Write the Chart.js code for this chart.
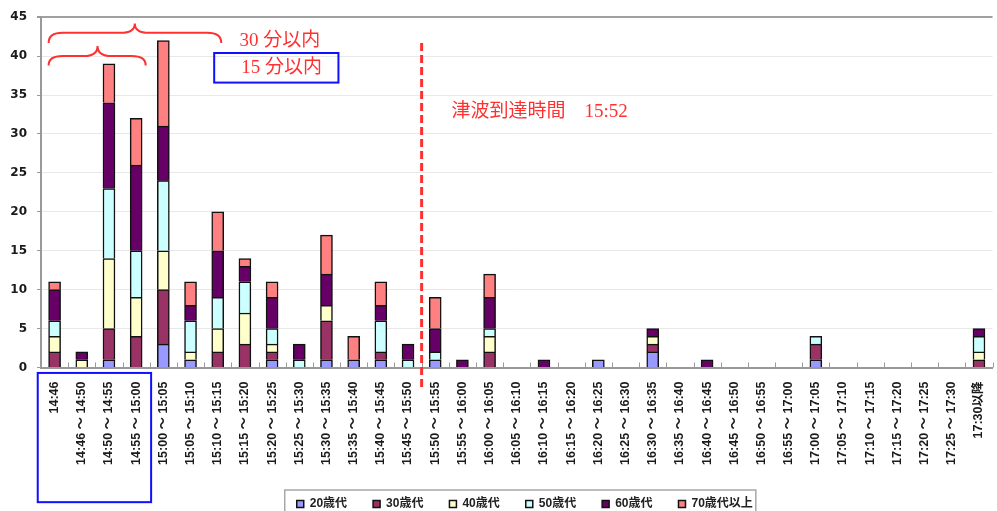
<!DOCTYPE html>
<html>
<head>
<meta charset="utf-8">
<script src="https://cdn.jsdelivr.net/npm/chart.js@4.4.1/dist/chart.umd.min.js"></script>
<style>
  html, body { margin: 0; padding: 0; background: #fff; width: 997px; height: 511px; overflow: hidden; }
  canvas { display: block; }
</style>
</head>
<body>
<canvas id="chart" width="1008" height="520"></canvas>
<script>
// Time slots after the earthquake (14:46)
const timeSlots = [
  '14:46', '14:46 ～ 14:50', '14:50 ～ 14:55', '14:55 ～ 15:00',
  '15:00 ～ 15:05', '15:05 ～ 15:10', '15:10 ～ 15:15', '15:15 ～ 15:20',
  '15:20 ～ 15:25', '15:25 ～ 15:30', '15:30 ～ 15:35', '15:35 ～ 15:40',
  '15:40 ～ 15:45', '15:45 ～ 15:50', '15:50 ～ 15:55', '15:55 ～ 16:00',
  '16:00 ～ 16:05', '16:05 ～ 16:10', '16:10 ～ 16:15', '16:15 ～ 16:20',
  '16:20 ～ 16:25', '16:25 ～ 16:30', '16:30 ～ 16:35', '16:35 ～ 16:40',
  '16:40 ～ 16:45', '16:45 ～ 16:50', '16:50 ～ 16:55', '16:55 ～ 17:00',
  '17:00 ～ 17:05', '17:05 ～ 17:10', '17:10 ～ 17:15', '17:15 ～ 17:20',
  '17:20 ～ 17:25', '17:25 ～ 17:30', '17:30以降'
];

// Counts per age group for each time slot
const age20s = [0,0,1,0,3,1,0,0,1,0,1,1,1,0,1,0,0,0,0,0,1,0,2,0,0,0,0,0,1,0,0,0,0,0,0];
const age30s = [2,0,4,4,7,0,2,3,1,0,5,0,1,0,0,0,2,0,0,0,0,0,1,0,0,0,0,0,2,0,0,0,0,0,1];
const age40s = [2,1,9,5,5,1,3,4,1,0,2,0,0,0,0,0,2,0,0,0,0,0,1,0,0,0,0,0,0,0,0,0,0,0,1];
const age50s = [2,0,9,6,9,4,4,4,2,1,0,0,4,1,1,0,1,0,0,0,0,0,0,0,0,0,0,0,1,0,0,0,0,0,2];
const age60s = [4,1,11,11,7,2,6,2,4,2,4,0,2,2,3,1,4,0,1,0,0,0,1,0,1,0,0,0,0,0,0,0,0,0,1];
const age70s = [1,0,5,6,11,3,5,1,2,0,5,3,3,0,4,0,3,0,0,0,0,0,0,0,0,0,0,0,0,0,0,0,0,0,0];

const seriesNames = ['20歳代', '30歳代', '40歳代', '50歳代', '60歳代', '70歳代以上'];
const seriesColors = ['#9999ff', '#993366', '#ffffcc', '#ccffff', '#660066', '#ff8080'];
const seriesValues = [age20s, age30s, age40s, age50s, age60s, age70s];

// Value axis
const yMin = 0, yMax = 45, yStep = 5;

// Annotation texts and their anchors (slot index, value)
const tsunamiText = '津波到達時間　15:52';
const within30Text = '30 分以内';
const within15Text = '15 分以内';
const tsunamiSlot = 13.5;

const RED = '#ff3030';
const BLUE = '#1010ff';
const annoFont = '19px "Liberation Serif", "Noto Sans CJK JP", serif';
const legendShift = 8;

function brace(ctx, x0, x1, xp, yEnd, yMid, yPeak, r) {
  ctx.beginPath();
  ctx.moveTo(x0, yEnd);
  ctx.quadraticCurveTo(x0, yMid, x0 + r, yMid);
  ctx.lineTo(xp - r, yMid);
  ctx.quadraticCurveTo(xp, yMid, xp, yPeak);
  ctx.quadraticCurveTo(xp, yMid, xp + r, yMid);
  ctx.lineTo(x1 - r, yMid);
  ctx.quadraticCurveTo(x1, yMid, x1, yEnd);
  ctx.stroke();
}

const extras = {
  id: 'extras',
  afterUpdate(chart) {
    // nudge the legend row to the right
    const lg = chart.legend;
    if (!lg) return;
    lg.left += legendShift;
    lg.right += legendShift;
    (lg.legendHitBoxes || []).forEach(h => { h.left += legendShift; });
  },
  afterDatasetsDraw(chart) {
    const {ctx, chartArea} = chart;
    const xs = chart.scales.x, ys = chart.scales.y;
    const X = v => xs.getPixelForValue(v);
    const Y = v => ys.getPixelForValue(v);
    ctx.save();
    // inward tick marks at slot boundaries
    ctx.strokeStyle = '#999';
    ctx.lineWidth = 1;
    for (let i = 0; i <= timeSlots.length; i++) {
      const x = Math.round(X(i - 0.5)) + 0.5;
      ctx.beginPath();
      ctx.moveTo(x, chartArea.bottom);
      ctx.lineTo(x, chartArea.bottom - 5);
      ctx.stroke();
    }
    // tsunami arrival line
    ctx.strokeStyle = RED;
    ctx.lineWidth = 3;
    ctx.setLineDash([8, 4]);
    ctx.beginPath();
    ctx.moveTo(X(tsunamiSlot), Y(41.7));
    ctx.lineTo(X(tsunamiSlot), Y(-2.9));
    ctx.stroke();
    ctx.setLineDash([]);
    // braces
    ctx.lineWidth = 2;
    brace(ctx, X(-0.22), X(6.13), X(2.95), Y(41.7), Y(43.0), Y(44.2), 14);
    brace(ctx, X(-0.22), X(3.35), X(1.58), Y(38.8), Y(40.0), Y(41.3), 14);
    // texts
    ctx.fillStyle = RED;
    ctx.font = annoFont;
    ctx.textAlign = 'left';
    ctx.textBaseline = 'middle';
    ctx.fillText(within30Text, X(6.8), Y(42.0));
    ctx.fillText(within15Text, X(6.87), Y(38.45));
    ctx.fillText(tsunamiText, X(14.6), Y(32.85));
    // box around the 15-minute caption
    ctx.strokeStyle = BLUE;
    ctx.lineWidth = 2;
    ctx.strokeRect(X(5.87), Y(40.4), X(10.44) - X(5.87), Y(36.6) - Y(40.4));
    ctx.restore();
  },
  afterDraw(chart) {
    const {ctx} = chart;
    const xs = chart.scales.x, ys = chart.scales.y;
    const X = v => xs.getPixelForValue(v);
    const Y = v => ys.getPixelForValue(v);
    ctx.save();
    // box around the first four slot labels
    ctx.strokeStyle = BLUE;
    ctx.lineWidth = 2;
    ctx.strokeRect(X(-0.62), Y(-0.7), X(3.55) - X(-0.62), Y(-17.3) - Y(-0.7));
    // frame around legend
    const hb = chart.legend.legendHitBoxes;
    if (hb && hb.length) {
      const l = hb[0].left - 12;
      const last = hb[hb.length - 1];
      const r = last.left + last.width + 3;
      const t = hb[0].top - 8;
      ctx.strokeStyle = '#a8a8a8';
      ctx.lineWidth = 1.5;
      ctx.strokeRect(l, t, r - l, 60);
    }
    ctx.restore();
  }
};

const datasets = seriesNames.map((name, i) => ({
  label: name,
  data: seriesValues[i].map(v => (v === 0 ? null : v)),
  backgroundColor: seriesColors[i],
  borderColor: '#111',
  borderWidth: 1.5,
  barThickness: 12
}));

new Chart(document.getElementById('chart'), {
  type: 'bar',
  data: { labels: timeSlots, datasets },
  plugins: [extras],
  options: {
    responsive: false,
    animation: false,
    devicePixelRatio: 1,
    layout: { padding: { left: 0, right: 2, top: 17, bottom: 0 } },
    plugins: {
      tooltip: { enabled: false },
      legend: {
        position: 'bottom',
        fullSize: false,
        labels: {
          boxWidth: 7, boxHeight: 7, padding: 26, color: '#222',
          font: { family: '"Liberation Sans", "Noto Sans CJK JP", sans-serif', size: 12, weight: 'bold' }
        }
      }
    },
    scales: {
      x: {
        stacked: true,
        afterFit: s => { s.height = 104.5; },
        grid: { display: false, drawTicks: false },
        border: { color: '#999', width: 2 },
        ticks: {
          autoSkip: false, minRotation: 90, maxRotation: 90, padding: 14, color: '#1a1a1a',
          font: { family: '"Liberation Sans", "Noto Sans CJK JP", sans-serif', size: 12.5, weight: 'bold' }
        }
      },
      y: {
        stacked: true,
        min: yMin, max: yMax,
        afterFit: s => { s.width = 41; },
        grid: {
          color: c => (c.tick && c.tick.value === yMax ? '#a0a0a0' : '#e8e8e8'),
          lineWidth: c => (c.tick && c.tick.value === yMax ? 2 : 1),
          tickColor: '#999', tickLength: 4
        },
        border: { color: '#999', width: 2 },
        ticks: {
          stepSize: yStep, padding: 10, color: '#1a1a1a',
          font: { family: '"DejaVu Sans", sans-serif', size: 12, weight: 'bold' }
        }
      }
    }
  }
});
</script>
</body>
</html>
